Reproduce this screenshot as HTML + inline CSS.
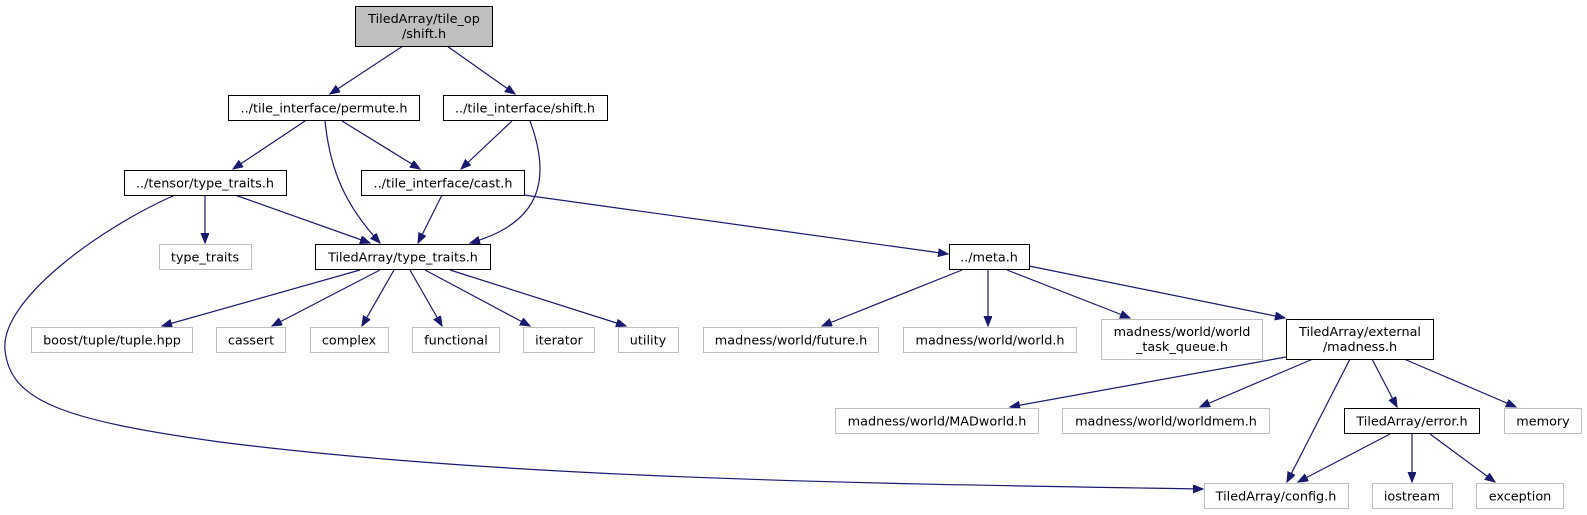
<!DOCTYPE html>
<html><head><meta charset="utf-8"><style>
html,body{margin:0;padding:0;background:#fff;}
svg{display:block;}
text{font-family:"DejaVu Sans","Liberation Sans",sans-serif;font-size:12.8px;fill:#000;text-anchor:middle;}
.k{fill:#fff;stroke:#000;stroke-width:1;}
.g{fill:#fff;stroke:#bfbfbf;stroke-width:1;}
.e{fill:none;stroke:#191970;stroke-width:1.2;marker-end:url(#a);}
</style></head><body>
<svg width="1587" height="515" viewBox="0 0 1587 515" xmlns="http://www.w3.org/2000/svg">
<defs><marker id="a" markerUnits="userSpaceOnUse" markerWidth="12" markerHeight="10" refX="10" refY="4" orient="auto"><path d="M0,0 L10,4 L0,8 Z" fill="#191970" stroke="#191970"/></marker></defs>

<path class="e" d="M403,46 L330,94"/>
<path class="e" d="M447,46 L515,94"/>
<path class="e" d="M305,121 L233,169"/>
<path class="e" d="M325,121 C330,170 345,205 380,243"/>
<path class="e" d="M342,121 L420,169"/>
<path class="e" d="M512,121 L461,169"/>
<path class="e" d="M530,121 C550,175 545,222 470,243"/>
<path class="e" d="M235,195 L370,243"/>
<path class="e" d="M205,195 L205,243"/>
<path class="e" d="M175,195 C100,228 0,300 5,350 C10,400 60,420 220,442 C520,480 900,484 1203,489"/>
<path class="e" d="M442,195 L418,243"/>
<path class="e" d="M524,195 L948,254"/>
<path class="e" d="M360,270 L162,326"/>
<path class="e" d="M380,270 L272,326"/>
<path class="e" d="M394,270 L362,326"/>
<path class="e" d="M410,270 L442,326"/>
<path class="e" d="M425,270 L530,326"/>
<path class="e" d="M450,270 L626,326"/>
<path class="e" d="M962,270 L822,326"/>
<path class="e" d="M988,270 L988,326"/>
<path class="e" d="M1007,270 L1130,318"/>
<path class="e" d="M1029,266 L1285,318"/>
<path class="e" d="M1286,357 L1010,407"/>
<path class="e" d="M1313,359 L1200,407"/>
<path class="e" d="M1350,359 L1287,482"/>
<path class="e" d="M1372,359 L1397,407"/>
<path class="e" d="M1404,359 L1516,407"/>
<path class="e" d="M1390,434 L1298,482"/>
<path class="e" d="M1412,434 L1412,482"/>
<path class="e" d="M1430,434 L1495,482"/>

<rect x="355.5" y="6.5" width="137" height="40" fill="#bfbfbf" stroke="#000"/>
<text x="424" y="23">TiledArray/tile_op</text><text x="424" y="38">/shift.h</text>

<rect class="k" x="228.5" y="95.5" width="191" height="25"/><text x="324" y="112.5">../tile_interface/permute.h</text>
<rect class="k" x="443.5" y="95.5" width="164" height="25"/><text x="525" y="112.5">../tile_interface/shift.h</text>

<rect class="k" x="124.5" y="170.5" width="162" height="25"/><text x="205" y="187.5">../tensor/type_traits.h</text>
<rect class="k" x="361.5" y="170.5" width="163" height="25"/><text x="443" y="187.5">../tile_interface/cast.h</text>

<rect class="g" x="159.5" y="244.5" width="92" height="25"/><text x="205" y="261.5">type_traits</text>
<rect class="k" x="315.5" y="244.5" width="175" height="25"/><text x="403" y="261.5">TiledArray/type_traits.h</text>
<rect class="k" x="949.5" y="244.5" width="80" height="25"/><text x="989" y="261.5">../meta.h</text>

<rect class="g" x="31.5" y="327.5" width="161" height="25"/><text x="112" y="344.5">boost/tuple/tuple.hpp</text>
<rect class="g" x="216.5" y="327.5" width="69" height="25"/><text x="251" y="344.5">cassert</text>
<rect class="g" x="310.5" y="327.5" width="78" height="25"/><text x="349" y="344.5">complex</text>
<rect class="g" x="412.5" y="327.5" width="87" height="25"/><text x="456" y="344.5">functional</text>
<rect class="g" x="523.5" y="327.5" width="71" height="25"/><text x="559" y="344.5">iterator</text>
<rect class="g" x="618.5" y="327.5" width="60" height="25"/><text x="648" y="344.5">utility</text>

<rect class="g" x="703.5" y="327.5" width="175" height="25"/><text x="791" y="344.5">madness/world/future.h</text>
<rect class="g" x="903.5" y="327.5" width="173" height="25"/><text x="990" y="344.5">madness/world/world.h</text>
<rect class="g" x="1101.5" y="319.5" width="161" height="40"/><text x="1182" y="336">madness/world/world</text><text x="1182" y="351">_task_queue.h</text>
<rect class="k" x="1286.5" y="319.5" width="147" height="40"/><text x="1360" y="336">TiledArray/external</text><text x="1360" y="351">/madness.h</text>

<rect class="g" x="835.5" y="408.5" width="203" height="25"/><text x="937" y="425.5">madness/world/MADworld.h</text>
<rect class="g" x="1062.5" y="408.5" width="207" height="25"/><text x="1166" y="425.5">madness/world/worldmem.h</text>
<rect class="k" x="1344.5" y="408.5" width="135" height="25"/><text x="1412" y="425.5">TiledArray/error.h</text>
<rect class="g" x="1504.5" y="408.5" width="77" height="25"/><text x="1543" y="425.5">memory</text>

<rect class="g" x="1204.5" y="483.5" width="144" height="25"/><text x="1276" y="500.5">TiledArray/config.h</text>
<rect class="g" x="1372.5" y="483.5" width="80" height="25"/><text x="1412" y="500.5">iostream</text>
<rect class="g" x="1476.5" y="483.5" width="87" height="25"/><text x="1520" y="500.5">exception</text>
</svg>
</body></html>
